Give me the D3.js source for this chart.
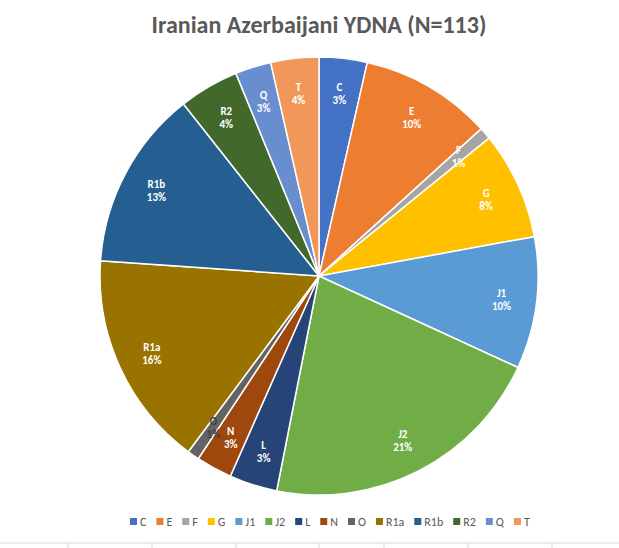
<!DOCTYPE html>
<meta charset="utf-8">
<script src="https://d3js.org/d3.v7.js"></script>
<style>body{margin:0;background:#fff}</style>
<div id="chart"></div>
<script>
var categories = ["C","E","F","G","J1","J2","L","N","O","R1a","R1b","R2","Q","T"];
var counts = [4,11,1,9,11,24,4,3,1,18,15,5,3,4];
var labels = ["3%","10%","1%","8%","10%","21%","3%","3%","1%","16%","13%","4%","3%","4%"];
var colors = ["#4472C4","#ED7D31","#A5A5A5","#FFC000","#5B9BD5","#70AD47","#264478","#9E480E","#636363","#997300","#255E91","#43682B","#698ED0","#F1975A"];
var gridTicks = [68,152,236,319,384,468,552];

var width = 619, height = 548, cx = 319, cy = 276, r = 219;
var svg = d3.select("#chart").append("svg").attr("width", width).attr("height", height)
  .style("font-family","Calibri, Carlito, 'Liberation Sans', sans-serif");

// faint grid line at bottom
svg.append("line").attr("x1",0).attr("x2",width).attr("y1",543).attr("y2",543).attr("stroke","#d9d9d9");
svg.selectAll("line.t").data(gridTicks).enter().append("line").attr("class","t")
  .attr("x1",d=>d).attr("x2",d=>d).attr("y1",543).attr("y2",548).attr("stroke","#d9d9d9");

svg.append("text").attr("x",cx).attr("y",33).attr("text-anchor","middle")
  .attr("font-size",24).attr("font-weight","bold").attr("fill","#595959")
  .text("Iranian Azerbaijani YDNA (N=113)");

var data = categories.map((c,i)=>({cat:c,v:counts[i],lab:labels[i],col:colors[i]}));
var pie = d3.pie().value(d=>d.v).sort(null);
var arc = d3.arc().innerRadius(0).outerRadius(r);
var g = svg.append("g").attr("transform","translate("+cx+","+cy+")");
var arcs = pie(data);
g.selectAll("path").data(arcs).enter().append("path")
  .attr("d",arc).attr("fill",d=>d.data.col).attr("stroke","#fff").attr("stroke-width",1.5);

var labArc = d3.arc().innerRadius(r*0.84).outerRadius(r*0.84);
var lg = g.selectAll("g.l").data(arcs).enter().append("g").attr("class","l")
  .attr("transform",d=>"translate("+labArc.centroid(d)+")");
lg.append("text").attr("text-anchor","middle").attr("y",-2).attr("font-size",11).attr("font-weight","bold")
  .attr("fill",d=>d.data.cat==="O"?"#404040":"#fff").text(d=>d.data.cat);
lg.append("text").attr("text-anchor","middle").attr("y",11).attr("font-size",11).attr("font-weight","bold")
  .attr("fill",d=>d.data.cat==="O"?"#404040":"#fff").text(d=>d.data.lab);

// legend
var leg = svg.append("g").attr("transform","translate(130,522)");
var x = 0;
data.forEach(function(d){
  var it = leg.append("g").attr("transform","translate("+x+",0)");
  it.append("rect").attr("x",0).attr("y",-4).attr("width",7).attr("height",7).attr("fill",d.col);
  var t = it.append("text").attr("x",10).attr("y",4).attr("font-size",12).attr("fill","#595959").text(d.cat);
  x += 10 + t.node().getComputedTextLength() + 10;
});
</script>
